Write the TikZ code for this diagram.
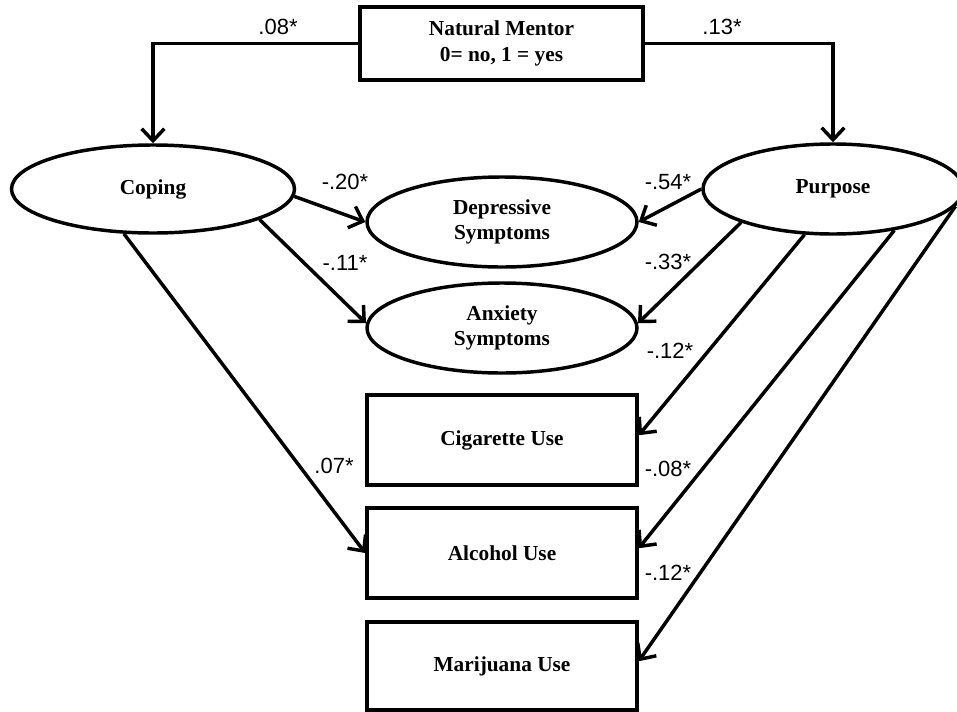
\documentclass[tikz,border=0pt]{standalone}
\usepackage{fontspec}
\setmainfont{Liberation Serif}
\newfontfamily\lblfont{Liberation Sans}
\usetikzlibrary{shapes.geometric,arrows.meta}
\begin{document}
\begin{tikzpicture}[x=0.75pt,y=-0.75pt,
  line width=2.6pt,
  box/.style={draw, rectangle, inner sep=0pt, minimum width=270*0.75pt, minimum height=90*0.75pt,
    font=\fontsize{16}{19}\selectfont\bfseries, align=center},
  oval/.style={draw, ellipse, inner sep=0pt, minimum width=270*0.75pt, minimum height=90*0.75pt,
    font=\fontsize{16}{19}\selectfont\bfseries, align=center},
  conn/.style={-{Straight Barb[length=9pt,width=17pt]}},
  lbl/.style={font=\lblfont\fontsize{16.5}{19}\selectfont, inner sep=0pt}]
\useasboundingbox (0,0) rectangle (957,711);
\clip (0,0) rectangle (957,711);
\node[box, minimum width=283*0.75pt, minimum height=73*0.75pt] (nm) at (501.5,43.5) {Natural Mentor\\0= no, 1 = yes};
\node[oval, minimum width=283*0.75pt, minimum height=88*0.75pt] (cop) at (153,189) {Coping};
\node[oval, minimum width=260*0.75pt, minimum height=90*0.75pt] (pur) at (833,189) {Purpose};
\node[oval] (dep) at (502,222) {Depressive\\Symptoms};
\node[oval] (anx) at (502,328) {Anxiety\\Symptoms};
\node[box] (cig) at (502,440) {Cigarette Use};
\node[box] (alc) at (502,553) {Alcohol Use};
\node[box, minimum height=88*0.75pt] (mar) at (502,666) {Marijuana Use};

\draw[conn] (nm.west) -| (cop.north);
\draw[conn] (nm.east) -| (pur.north);
\draw[conn] (cop.357) -- (dep.west);
\draw[conn] (cop.344) -- (anx.178);
\draw[conn] (cop.237) -- (alc.west);
\draw[conn] (pur.west) -- (dep.east);
\draw[conn] (pur.200) -- (anx.2);
\draw[conn] (pur.238) -- (cig.2);
\draw[conn] (pur.326) -- (alc.2);
\draw[conn] (pur.352) -- (mar.2);

\node[lbl] (l1) at (278,27) {.08*};
\node[lbl] (l2) at (722,27) {.13*};
\node[lbl] (l3) at (345,182) {-.20*};
\node[lbl] (l4) at (345,263) {-.11*};
\node[lbl] (l5) at (668,182) {-.54*};
\node[lbl] (l6) at (668,262) {-.33*};
\node[lbl] (l7) at (670,351) {-.12*};
\node[lbl] (l8) at (668,469) {-.08*};
\node[lbl] (l9) at (668,573) {-.12*};
\node[lbl] (l10) at (334,466) {.07*};
\end{tikzpicture}
\end{document}
